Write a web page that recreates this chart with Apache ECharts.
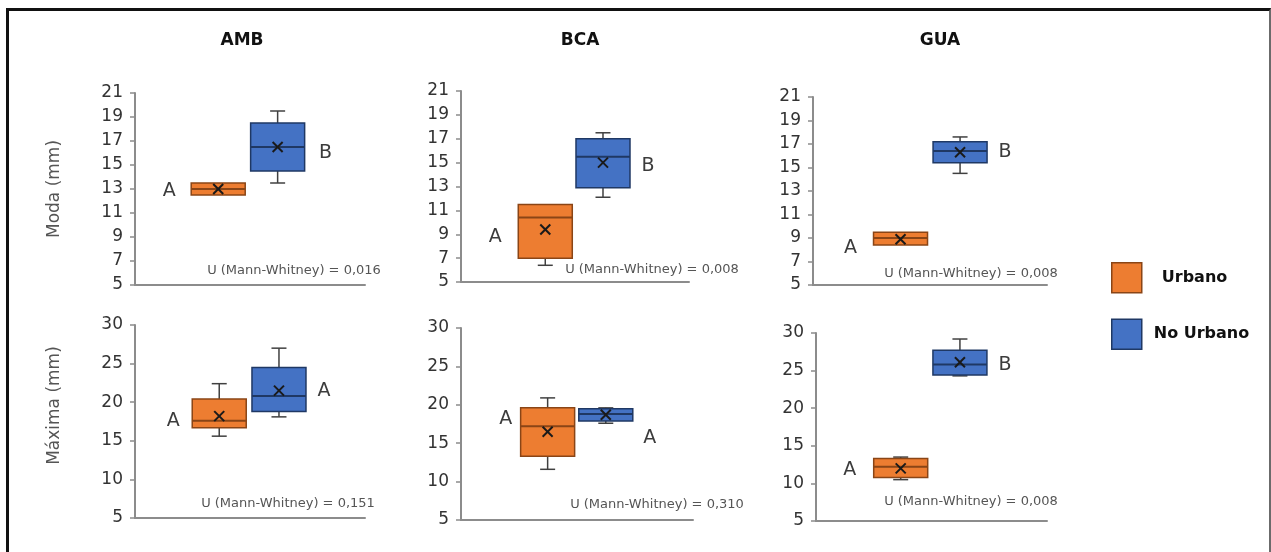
<!DOCTYPE html>
<html>
<head>
<meta charset="utf-8">
<script src="https://cdn.jsdelivr.net/npm/echarts@6/dist/echarts.min.js"></script>
<style>
  html, body { margin: 0; padding: 0; background: #ffffff; }
  #chart { width: 1271px; height: 552px; }
  #frame {
    position: absolute; left: 6px; top: 8px; width: 1265px; height: 600px;
    box-sizing: border-box; pointer-events: none;
    border-left: 3px solid #111; border-top: 3px solid #111; border-right: 2px solid #6b6b6b;
  }
</style>
</head>
<body>
<div id="chart"></div>
<div id="frame"></div>
<script>
// Regions (columns) and land-use groups
const regions = ['AMB', 'BCA', 'GUA'];
const groups = ['Urbano', 'No Urbano'];

// Box statistics per region: [min, Q1, median, Q3, max, mean]
const modaUrbano = [
  [12.5, 12.5, 13.0, 13.5, 13.5, 13.0],
  [6.4, 7.0, 10.4, 11.5, 11.5, 9.4],
  [8.4, 8.4, 9.0, 9.5, 9.5, 8.9]
];
const modaNoUrbano = [
  [13.5, 14.5, 16.5, 18.5, 19.5, 16.5],
  [12.1, 12.9, 15.5, 17.0, 17.5, 15.0],
  [14.5, 15.4, 16.4, 17.2, 17.6, 16.3]
];
const maximaUrbano = [
  [15.6, 16.7, 17.6, 20.4, 22.4, 18.2],
  [11.6, 13.3, 17.2, 19.6, 20.9, 16.5],
  [10.5, 10.8, 12.2, 13.3, 13.5, 12.0]
];
const maximaNoUrbano = [
  [18.1, 18.8, 20.8, 24.5, 27.0, 21.5],
  [17.6, 17.9, 18.8, 19.5, 19.6, 18.7],
  [24.3, 24.4, 25.8, 27.7, 29.2, 26.1]
];

// Significance letters [Urbano, No Urbano] per region
const modaLetters = [['A', 'B'], ['A', 'B'], ['A', 'B']];
const maximaLetters = [['A', 'A'], ['A', 'A'], ['A', 'B']];

// Mann-Whitney U test results per region
const modaPValues = ['0,016', '0,008', '0,008'];
const maximaPValues = ['0,151', '0,310', '0,008'];

// Row settings: axis names and value ranges
const rowNames = ['Moda (mm)', 'Máxima (mm)'];
const rowMin = [5, 5];
const rowMax = [21, 30];
const rowStep = [2, 5];

// ---- styling and layout ----
const FONT = "'DejaVu Sans', 'Liberation Sans', sans-serif";
const fills = ['#ED7D31', '#4472C4'];
const edges = ['#8A4516', '#1F3864'];
const axisGray = '#8c8c8c';

const gridBoxes = [
  { left: 135, top: 93, width: 230, height: 192 },
  { left: 461, top: 91, width: 228, height: 191 },
  { left: 813, top: 97, width: 234, height: 188 },
  { left: 135, top: 325, width: 230, height: 193 },
  { left: 461, top: 328, width: 232, height: 192 },
  { left: 816, top: 333, width: 231, height: 188 }
];
// horizontal extent of each panel in group-slot units (slot 1 = Urbano, slot 2 = No Urbano)
const slotRange = [
  [-0.40, 3.47], [-0.46, 3.49], [-0.47, 3.46],
  [-0.41, 3.44], [-0.49, 3.50], [-0.43, 3.47]
];
// letter placement relative to each box centre / mean, in px
const letterNudge = [
  [[-49, 2], [48, 6]], [[-50, 8], [45, 3]], [[-50, 9], [45, 0]],
  [[-46, 5], [45, 0]], [[-42, -13], [44, 23]], [[-51, 2], [45, 3]]
];
const titleCenters = [242, 580, 940];
const pTextPos = [
  [294, 271], [652, 270], [971, 274],
  [288, 504], [657, 505], [971, 502]
];

const BOX_HALF = 27;
const CAP_HALF = 7.5;
const X_HALF = 5;

function boxRenderer(g, letter, nudge) {
  return function (params, api) {
    const slot = api.value(0);
    const cx = api.coord([slot, api.value(1)])[0];
    const py = i => api.coord([slot, api.value(i)])[1];
    const yMin = py(1), yQ1 = py(2), yMed = py(3), yQ3 = py(4), yMax = py(5), yMean = py(6);
    const whisker = { stroke: '#404040', lineWidth: 1.5 };
    const children = [];
    if (yMax < yQ3 - 0.5) {
      children.push({ type: 'line', shape: { x1: cx, y1: yQ3, x2: cx, y2: yMax }, style: whisker });
      children.push({ type: 'line', shape: { x1: cx - CAP_HALF, y1: yMax, x2: cx + CAP_HALF, y2: yMax }, style: whisker });
    }
    if (yMin > yQ1 + 0.5) {
      children.push({ type: 'line', shape: { x1: cx, y1: yQ1, x2: cx, y2: yMin }, style: whisker });
      children.push({ type: 'line', shape: { x1: cx - CAP_HALF, y1: yMin, x2: cx + CAP_HALF, y2: yMin }, style: whisker });
    }
    children.push({
      type: 'rect',
      shape: { x: cx - BOX_HALF, y: yQ3, width: BOX_HALF * 2, height: yQ1 - yQ3 },
      style: { fill: fills[g], stroke: edges[g], lineWidth: 1.5 }
    });
    children.push({
      type: 'line',
      shape: { x1: cx - BOX_HALF, y1: yMed, x2: cx + BOX_HALF, y2: yMed },
      style: { stroke: edges[g], lineWidth: 2 }
    });
    children.push({
      type: 'line',
      shape: { x1: cx - X_HALF, y1: yMean - X_HALF, x2: cx + X_HALF, y2: yMean + X_HALF },
      style: { stroke: '#1a1a1a', lineWidth: 2 }
    });
    children.push({
      type: 'line',
      shape: { x1: cx - X_HALF, y1: yMean + X_HALF, x2: cx + X_HALF, y2: yMean - X_HALF },
      style: { stroke: '#1a1a1a', lineWidth: 2 }
    });
    children.push({
      type: 'text',
      x: cx + nudge[0], y: yMean + nudge[1],
      style: {
        text: letter, fontSize: 19, fontFamily: FONT, fill: '#3c3c3c',
        align: 'center', verticalAlign: 'middle'
      }
    });
    return { type: 'group', children: children };
  };
}

const rows = [
  { urb: modaUrbano, nou: modaNoUrbano, letters: modaLetters, p: modaPValues },
  { urb: maximaUrbano, nou: maximaNoUrbano, letters: maximaLetters, p: maximaPValues }
];

const grid = [], xAxis = [], yAxis = [], series = [], title = [];

rows.forEach(function (row, r) {
  regions.forEach(function (region, c) {
    const k = r * 3 + c;
    grid.push(Object.assign({ containLabel: false }, gridBoxes[k]));
    xAxis.push({
      type: 'value', gridIndex: k, min: slotRange[k][0], max: slotRange[k][1],
      axisLine: { show: true, onZero: false, lineStyle: { color: axisGray, width: 2 } },
      axisTick: { show: false }, axisLabel: { show: false }, splitLine: { show: false }
    });
    yAxis.push({
      type: 'value', gridIndex: k, min: rowMin[r], max: rowMax[r], interval: rowStep[r],
      name: c === 0 ? rowNames[r] : '',
      nameLocation: 'middle', nameRotate: 90, nameGap: 72,
      nameTextStyle: {
        fontFamily: FONT, fontSize: 17, color: '#555555',
        padding: r === 1 ? [0, 0, 0, 32] : 0
      },
      axisLine: { show: true, onZero: false, lineStyle: { color: axisGray, width: 2 } },
      axisTick: { show: true, length: 5, lineStyle: { color: axisGray, width: 1.5 } },
      axisLabel: { fontFamily: FONT, fontSize: 17, color: '#333333', margin: 12 },
      splitLine: { show: false }
    });
    [row.urb, row.nou].forEach(function (stats, g) {
      series.push({
        name: groups[g],
        type: 'custom',
        xAxisIndex: k, yAxisIndex: k,
        itemStyle: { color: fills[g] },
        clip: false,
        encode: { x: 0, y: [1, 2, 3, 4, 5, 6] },
        renderItem: boxRenderer(g, row.letters[c][g], letterNudge[k][g]),
        data: [[g + 1].concat(stats[c])]
      });
    });
    title.push({
      text: 'U (Mann-Whitney) = ' + row.p[c],
      left: pTextPos[k][0], top: pTextPos[k][1],
      textAlign: 'center', textVerticalAlign: 'middle', padding: 0,
      textStyle: { fontFamily: FONT, fontSize: 13, fontWeight: 'normal', color: '#555555' }
    });
  });
});

regions.forEach(function (region, c) {
  title.push({
    text: region, left: titleCenters[c], top: 41,
    textAlign: 'center', textVerticalAlign: 'middle', padding: 0,
    textStyle: { fontFamily: FONT, fontSize: 17, fontWeight: 'bold', color: '#111111' }
  });
});

const chart = echarts.init(document.getElementById('chart'), null, { renderer: 'canvas' });
chart.setOption({
  backgroundColor: '#ffffff',
  animation: false,
  title: title,
  grid: grid,
  xAxis: xAxis,
  yAxis: yAxis,
  legend: {
    orient: 'vertical', left: 1106, top: 257,
    itemWidth: 30, itemHeight: 30, itemGap: 25, icon: 'rect', selectedMode: false,
    textStyle: { fontFamily: FONT, fontSize: 16, fontWeight: 'bold', color: '#111111' },
    data: [
      { name: groups[0], itemStyle: { color: fills[0], borderColor: edges[0], borderWidth: 1.5 },
        textStyle: { padding: [0, 0, 0, 15] } },
      { name: groups[1], itemStyle: { color: fills[1], borderColor: edges[1], borderWidth: 1.5 },
        textStyle: { padding: [0, 0, 0, 7] } }
    ]
  },
  series: series
});
</script>
</body>
</html>
